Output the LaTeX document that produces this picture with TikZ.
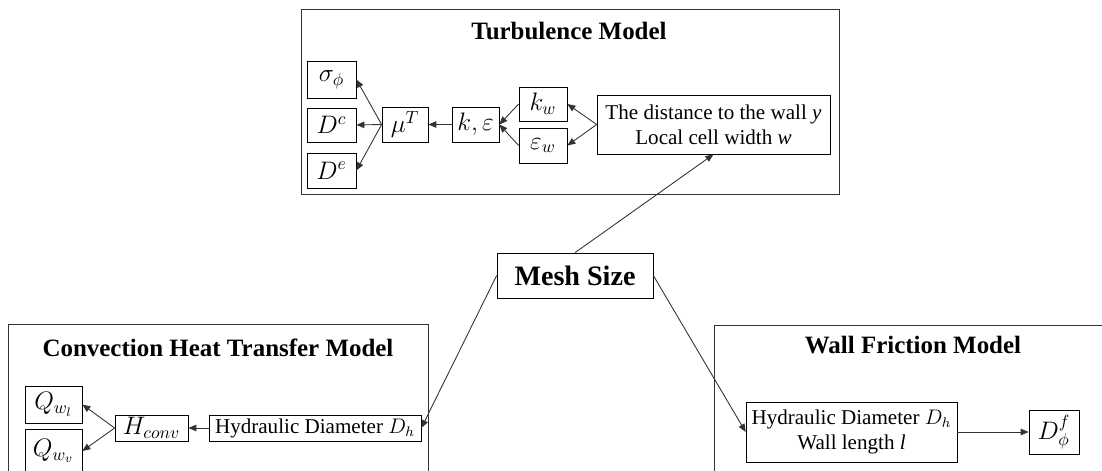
\documentclass[tikz,border=0pt]{standalone}
\usepackage{fontspec}
\setmainfont{Liberation Serif}
\usetikzlibrary{arrows.meta}

\begin{document}
\begin{tikzpicture}[
    x=0.02cm, y=-0.02cm,
    box/.style={draw, rectangle, align=center, inner sep=0pt,
                font=\fontsize{12}{14}\selectfont},
    sym/.style={box, font=\fontsize{14}{16}\selectfont},
    frame/.style={draw=black!80, line width=0.5pt},
    title/.style={font=\fontsize{14.2}{16}\selectfont\bfseries},
    arrow/.style={-{Triangle[length=1.6mm, width=1.3mm]}, draw=black!80,
                  line width=0.5pt}
]
\useasboundingbox (0,0) rectangle (1102,470);

% Turbulence Model
\draw[frame] (301,9) rectangle (839,194);
\node[title] (turbtitle) at (569,31) {Turbulence Model};
\node[sym, minimum width=0.98cm, minimum height=0.74cm] (sig) at (331.5,79.5) {$\sigma_\phi$};
\node[sym, minimum width=0.98cm, minimum height=0.68cm] (Dc) at (331.5,125) {$D^c$};
\node[sym, minimum width=0.98cm, minimum height=0.70cm] (De) at (331.5,170.5) {$D^e$};
\node[sym, minimum width=0.92cm, minimum height=0.70cm] (mu) at (405,124.5) {$\mu^T$};
\node[sym, minimum width=0.94cm, minimum height=0.70cm] (ke) at (475.5,124.5) {$k,\varepsilon$};
\node[sym, minimum width=0.96cm, minimum height=0.68cm] (kw) at (543,104) {$k_w$};
\node[sym, minimum width=0.96cm, minimum height=0.70cm] (ew) at (543,145.5) {$\varepsilon_w$};
\node[box, minimum width=4.66cm, minimum height=1.18cm] (dist) at (713.5,124.5)
    {The distance to the wall \textit{y}\\Local cell width \textit{w}};

\draw[arrow] (dist.west) -- (kw.east);
\draw[arrow] (dist.west) -- (ew.east);
\draw[arrow] (kw.west) -- (ke.east);
\draw[arrow] (ew.west) -- (ke.east);
\draw[arrow] (ke) -- (mu);
\draw[arrow] (mu.west) -- (sig.east);
\draw[arrow] (mu.west) -- (Dc.east);
\draw[arrow] (mu.west) -- (De.east);

% Mesh Size
\node[box, minimum width=3.12cm, minimum height=0.90cm,
      font=\fontsize{16}{18}\selectfont\bfseries] (mesh) at (575,275.5) {Mesh Size};

% Convection Heat Transfer Model
\draw[frame] (8,480) |- (428,324) -- (428,480);
\node[title] (convtitle) at (218,348) {Convection Heat Transfer Model};
\node[sym, minimum width=1.14cm, minimum height=0.74cm] (Qwl) at (53.5,404.5) {$Q_{w_l}$};
\node[sym, minimum width=1.14cm, minimum height=0.88cm] (Qwv) at (53.5,451) {$Q_{w_v}$};
\node[sym, minimum width=1.46cm, minimum height=0.52cm] (Hc) at (151.5,428) {$H_{conv}$};
\node[box, minimum width=4.24cm, minimum height=0.52cm] (hyd1) at (315,428) {Hydraulic Diameter $D_h$};

\draw[arrow] (hyd1) -- (Hc);
\draw[arrow] (Hc.west) -- (Qwl.east);
\draw[arrow] (Hc.west) -- (Qwv.east);

% Wall Friction Model
\draw[frame] (714,480) |- (1110,325);
\node[title] (walltitle) at (913,345) {Wall Friction Model};
\node[box, minimum width=4.22cm, minimum height=1.20cm] (hyd2) at (851.5,432)
    {Hydraulic Diameter $D_h$\\Wall length \textit{l}};
\node[sym, minimum width=1.00cm, minimum height=0.88cm] (Dphi) at (1054,432) {$D_\phi^f$};

\draw[arrow] (hyd2) -- (Dphi);

% links from the mesh size
\draw[arrow] (mesh.north) -- (dist.south);
\draw[arrow] (mesh.west) -- (hyd1.east);
\draw[arrow] (mesh.east) -- (hyd2.west);
\end{tikzpicture}
\end{document}
